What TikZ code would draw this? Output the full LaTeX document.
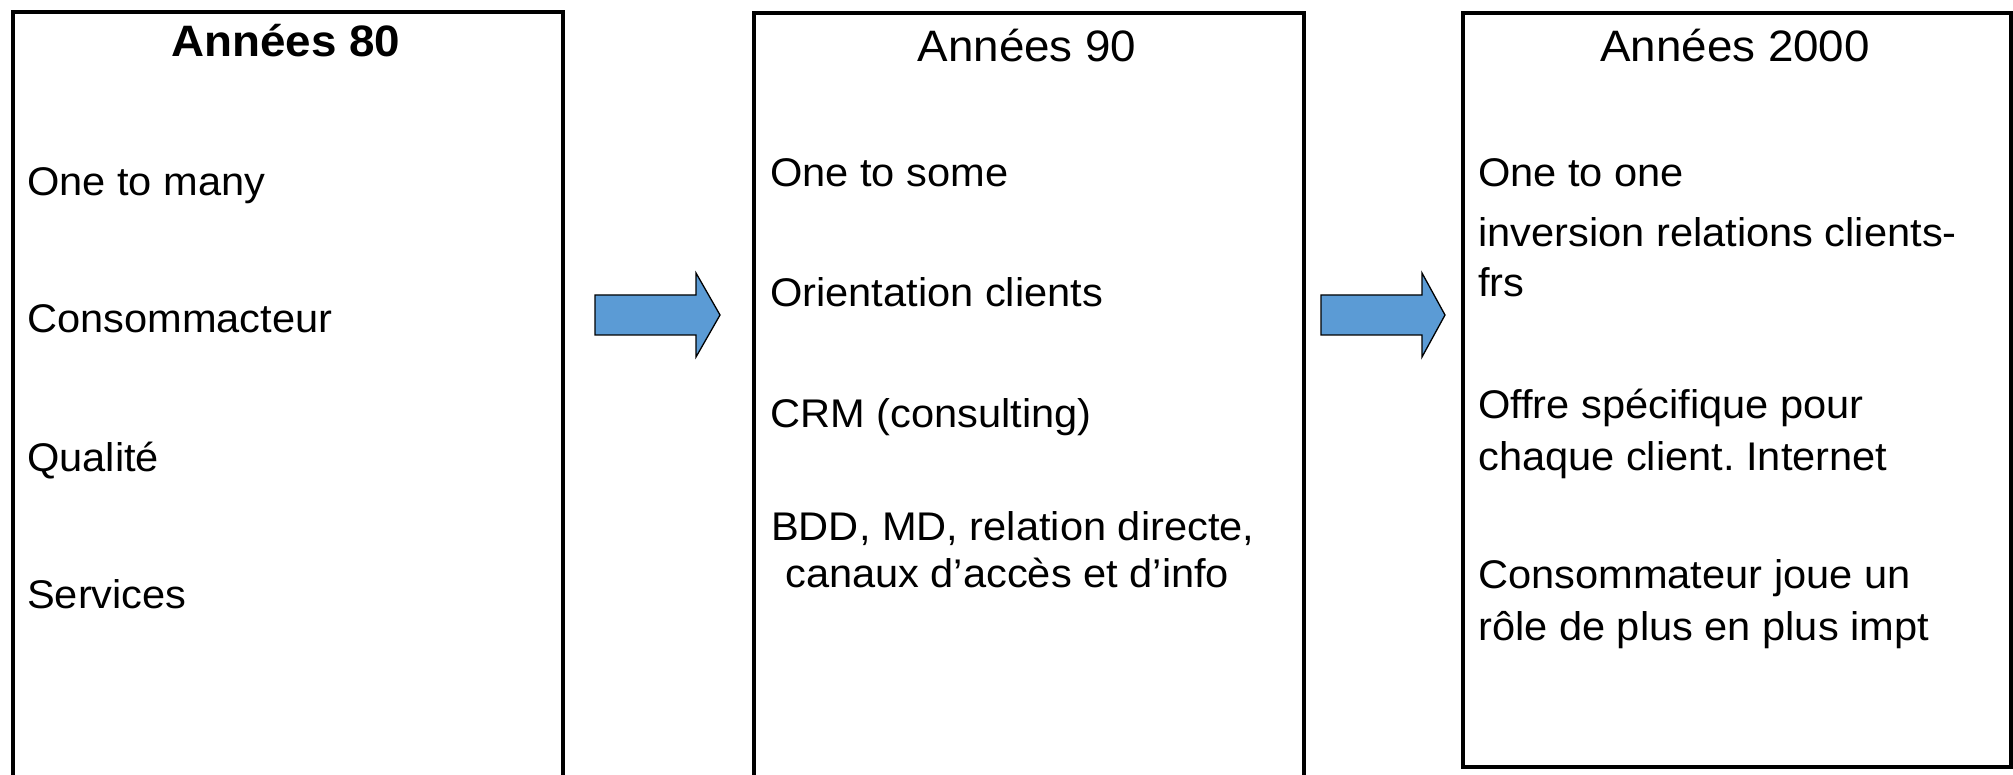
\documentclass[tikz,border=0pt]{standalone}
\usepackage{fontspec}
\setmainfont{Liberation Sans}[FakeStretch=1.04]
\definecolor{arrowblue}{HTML}{5B9BD5}
\frenchspacing
\begin{document}
\begin{tikzpicture}[x=1pt,y=-1pt,
  panel/.style={draw=black, line width=4pt, anchor=north west, inner sep=0pt},
  item/.style={anchor=base west, inner sep=0pt, font=\fontsize{40}{48}\selectfont},
  ttl/.style={anchor=base, inner sep=0pt, font=\fontsize{44}{52}\selectfont},
  blockarrow/.style={draw=black, line width=1.3pt, fill=arrowblue, line join=miter}]
\clip (0,0) rectangle (2013,775);
\fill[white] (0,0) rectangle (2013,775);
% panels
\node[panel, minimum width=550.5pt, minimum height=800pt] (p1) at (10.5,10.5) {};
\node[panel, minimum width=550pt, minimum height=800pt] (p2) at (752,11.5) {};
\node[panel, minimum width=548pt, minimum height=753.5pt] (p3) at (1461,11.5) {};
% titles
\node[ttl] (t1) at (286,57) {\textbf{Années 80}};
\node[ttl] (t2) at (1027,62) {Années 90};
\node[ttl] (t3) at (1735,62) {Années 2000};
% panel 1
\node[item] (a1) at (27,196) {One to many};
\node[item] (a2) at (27,333) {Consommacteur};
\node[item] (a3) at (27,471) {Qualité};
\node[item] (a4) at (27,608) {Services};
% panel 2
\node[item] (b1) at (770,187) {One to some};
\node[item] (b2) at (770,307) {Orientation clients};
\node[item] (b3) at (770,428) {CRM (consulting)};
\node[item] (b4) at (771,540) {BDD, MD, relation directe,};
\node[item] (b5) at (785,587) {canaux d’accès et d’info};
% panel 3
\node[item] (c1) at (1478,187) {One to one};
\node[item] (c2) at (1478,247) {inversion relations clients-};
\node[item] (c3) at (1478,297) {frs};
\node[item] (c4) at (1478,418) {Offre spécifique pour};
\node[item] (c5) at (1478,470) {chaque client. Internet};
\node[item] (c6) at (1478,588) {Consommateur joue un};
\node[item] (c7) at (1478,640) {rôle de plus en plus impt};
% block arrows
\draw[blockarrow] (595,295) -- (696,295) -- (696,273) -- (720,315) -- (696,357) -- (696,335) -- (595,335) -- cycle;
\draw[blockarrow] (1321,295) -- (1422,295) -- (1422,273) -- (1445,315) -- (1422,357) -- (1422,335) -- (1321,335) -- cycle;
\end{tikzpicture}
\end{document}
